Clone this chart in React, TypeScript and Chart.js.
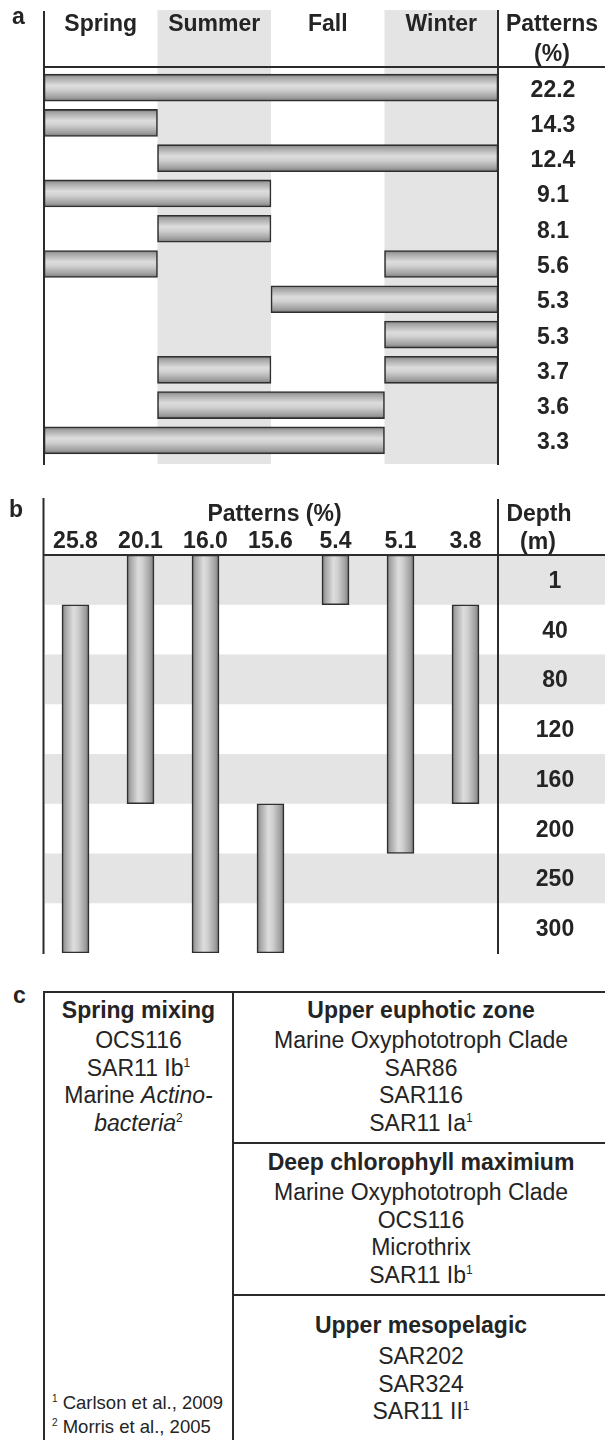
import React, { useEffect, useRef } from "react";
import { Chart, registerables } from "chart.js";

Chart.register(...registerables);

const FONT = '"Liberation Sans", Arial, Helvetica, sans-serif';
const INK = "#242424";
const LINE = "#2b2b2b";
const SHADE = "#e4e4e4";
const BAR_EDGE = "#2f2f2f";

// ---------- panel a : seasonal patterns ----------
const seasons = ["Spring", "Summer", "Fall", "Winter"];
const shadedSeasons = [1, 3];
const patternsA = ["22.2", "14.3", "12.4", "9.1", "8.1", "5.6", "5.3", "5.3", "3.7", "3.6", "3.3"];
// season index spans (0 = start of Spring, 4 = end of Winter)
const seasonSpanA = [[0, 4], [0, 1], [1, 4], [0, 2], [1, 2], [0, 1], [2, 4], [3, 4], [1, 2], [1, 3], [0, 3]];
const seasonSpanA2 = [null, null, null, null, null, [3, 4], null, null, [3, 4], null, null];

// ---------- panel b : depth patterns ----------
const patternsB = ["25.8", "20.1", "16.0", "15.6", "5.4", "5.1", "3.8"];
const depths = ["1", "40", "80", "120", "160", "200", "250", "300"];
// depth-band index spans (0 = top of the 1 m band, 8 = bottom of the 300 m band)
const depthSpanB = [[1, 8], [0, 5], [0, 8], [5, 8], [0, 1], [0, 6], [1, 5]];

// ---------- panel c : table ----------
type Seg = { t: string; i?: boolean; s?: string };
const springTitle = "Spring mixing";
const springItems: Seg[][] = [
  [{ t: "OCS116" }],
  [{ t: "SAR11 Ib", s: "1" }],
  [{ t: "Marine " }, { t: "Actino-", i: true }],
  [{ t: "bacteria", i: true, s: "2" }],
];
const zoneTitles = ["Upper euphotic zone", "Deep chlorophyll maximium", "Upper mesopelagic"];
const zoneItems: Seg[][][] = [
  [[{ t: "Marine Oxyphototroph Clade" }], [{ t: "SAR86" }], [{ t: "SAR116" }], [{ t: "SAR11 Ia", s: "1" }]],
  [[{ t: "Marine Oxyphototroph Clade" }], [{ t: "OCS116" }], [{ t: "Microthrix" }], [{ t: "SAR11 Ib", s: "1" }]],
  [[{ t: "SAR202" }], [{ t: "SAR324" }], [{ t: "SAR11 II", s: "1" }]],
];
const footnoteMarks = ["1", "2"];
const footnoteTexts = ["Carlson et al., 2009", "Morris et al., 2005"];

const BAR = 27;

function cylinder(ctx: CanvasRenderingContext2D, from: number, to: number, across: "x" | "y") {
  const g = across === "x" ? ctx.createLinearGradient(from, 0, to, 0) : ctx.createLinearGradient(0, from, 0, to);
  g.addColorStop(0, "#7e7e7e");
  g.addColorStop(0.12, "#a4a4a4");
  g.addColorStop(0.42, "#dddddd");
  g.addColorStop(0.58, "#d0d0d0");
  g.addColorStop(0.86, "#a0a0a0");
  g.addColorStop(1, "#787878");
  return g;
}

function seg(ctx: CanvasRenderingContext2D, x0: number, y0: number, x1: number, y1: number) {
  ctx.beginPath();
  ctx.moveTo(x0, y0);
  ctx.lineTo(x1, y1);
  ctx.stroke();
}

const panelAPlugin = {
  id: "panelA",
  beforeDatasetsDraw(chart: any) {
    const { ctx } = chart;
    const x = chart.scales.x;
    ctx.save();
    ctx.fillStyle = SHADE;
    for (const s of shadedSeasons) {
      const x0 = x.getPixelForValue(s);
      const x1 = x.getPixelForValue(s + 1);
      ctx.fillRect(x0, 10, x1 - x0, 454);
    }
    ctx.restore();
  },
  afterDraw(chart: any) {
    const { ctx } = chart;
    const x = chart.scales.x;
    const y = chart.scales.y;
    ctx.save();
    ctx.strokeStyle = LINE;
    ctx.lineWidth = 2;
    seg(ctx, x.left, 11, x.left, 465);
    seg(ctx, x.right, 10, x.right, 465);
    seg(ctx, x.left, 67, 605, 67);
    ctx.fillStyle = INK;
    ctx.font = `bold 23px ${FONT}`;
    ctx.textAlign = "center";
    ctx.textBaseline = "alphabetic";
    ctx.fillText("a", 18.5, 24);
    seasons.forEach((s, i) => ctx.fillText(s, x.getPixelForValue(i + 0.5), 31));
    ctx.fillText("Patterns", 552, 31);
    ctx.fillText("(%)", 552, 61);
    patternsA.forEach((p, i) => ctx.fillText(p, 553, y.getPixelForValue(i) + 9));
    ctx.restore();
  },
};

const panelBPlugin = {
  id: "panelB",
  beforeDatasetsDraw(chart: any) {
    const { ctx } = chart;
    const y = chart.scales.y;
    ctx.save();
    ctx.fillStyle = SHADE;
    depths.forEach((_, i) => {
      if (i % 2 === 0) {
        const y0 = y.getPixelForValue(i);
        const y1 = y.getPixelForValue(i + 1);
        ctx.fillRect(45, y0, 605 - 45, y1 - y0);
      }
    });
    ctx.restore();
  },
  afterDraw(chart: any) {
    const { ctx } = chart;
    const x = chart.scales.x;
    const y = chart.scales.y;
    ctx.save();
    ctx.strokeStyle = LINE;
    ctx.lineWidth = 2;
    seg(ctx, x.left + 0.5, 18, x.left + 0.5, 474);
    seg(ctx, x.right, 19, x.right, 474);
    seg(ctx, x.left, 75, 605, 75);
    ctx.fillStyle = INK;
    ctx.font = `bold 23px ${FONT}`;
    ctx.textAlign = "center";
    ctx.textBaseline = "alphabetic";
    ctx.fillText("b", 16, 37);
    ctx.fillText("Patterns (%)", (x.left + x.right) / 2 + 4, 41);
    patternsB.forEach((p, i) => ctx.fillText(p, x.getPixelForValue(i), 68));
    ctx.fillText("Depth", 539, 41);
    ctx.fillText("(m)", 538, 69);
    depths.forEach((d, i) => ctx.fillText(d, 555, (y.getPixelForValue(i) + y.getPixelForValue(i + 1)) / 2 + 8));
    ctx.restore();
  },
};

function PanelA() {
  const ref = useRef<HTMLCanvasElement>(null);
  useEffect(() => {
    const style = {
      grouped: false,
      barThickness: BAR,
      borderWidth: 1.6,
      borderColor: BAR_EDGE,
      borderSkipped: false,
      backgroundColor: (c: any) => {
        const chart = c.chart;
        if (c.type !== "data" || !chart.chartArea || !chart.scales.y) return "#c4c4c4";
        const cy = chart.scales.y.getPixelForValue(c.dataIndex);
        return cylinder(chart.ctx, cy - BAR / 2, cy + BAR / 2, "y");
      },
    };
    const chart = new Chart(ref.current as HTMLCanvasElement, {
      type: "bar",
      data: {
        labels: patternsA,
        datasets: [
          { data: seasonSpanA as any, ...style } as any,
          { data: seasonSpanA2 as any, ...style } as any,
        ],
      },
      options: {
        indexAxis: "y",
        responsive: false,
        animation: false,
        events: [],
        layout: { padding: { left: 44, right: 107, top: 70, bottom: 12 } },
        scales: {
          x: { type: "linear", min: 0, max: 4, display: false },
          y: { type: "category", display: false, offset: true },
        },
        plugins: { legend: { display: false }, tooltip: { enabled: false } },
      },
      plugins: [panelAPlugin],
    });
    return () => chart.destroy();
  }, []);
  return <canvas ref={ref} width={605} height={470} style={{ position: "absolute", left: 0, top: 0 }} />;
}

function PanelB() {
  const ref = useRef<HTMLCanvasElement>(null);
  useEffect(() => {
    const chart = new Chart(ref.current as HTMLCanvasElement, {
      type: "bar",
      data: {
        labels: patternsB,
        datasets: [
          {
            data: depthSpanB as any,
            barThickness: BAR,
            borderWidth: 1.6,
            borderColor: BAR_EDGE,
            borderSkipped: false,
            backgroundColor: (c: any) => {
              const chart = c.chart;
              if (c.type !== "data" || !chart.chartArea || !chart.scales.x) return "#c4c4c4";
              const cx = chart.scales.x.getPixelForValue(c.dataIndex);
              return cylinder(chart.ctx, cx - BAR / 2, cx + BAR / 2, "x");
            },
          } as any,
        ],
      },
      options: {
        responsive: false,
        animation: false,
        events: [],
        layout: { padding: { left: 43, right: 107, top: 75, bottom: 7 } },
        scales: {
          x: { type: "category", display: false, offset: true },
          y: { type: "linear", min: 0, max: 8, reverse: true, display: false },
        },
        plugins: { legend: { display: false }, tooltip: { enabled: false } },
      },
      plugins: [panelBPlugin],
    });
    return () => chart.destroy();
  }, []);
  return <canvas ref={ref} width={605} height={480} style={{ position: "absolute", left: 0, top: 480 }} />;
}

const SUP: React.CSSProperties = { fontSize: 12, lineHeight: 0, verticalAlign: "super", fontStyle: "normal" };

function TextLine({ segs }: { segs: Seg[] }) {
  return (
    <>
      {segs.map((s, k) => (
        <span key={k} style={{ fontStyle: s.i ? "italic" : "normal" }}>
          {s.t}
          {s.s ? <sup style={SUP}>{s.s}</sup> : null}
        </span>
      ))}
    </>
  );
}

function Cell({ left, width, center, bold, children }: any) {
  return (
    <div
      style={{
        position: "absolute",
        left,
        width,
        top: center - 14,
        height: 28,
        lineHeight: "28px",
        fontSize: 23,
        fontWeight: bold ? "bold" : "normal",
        textAlign: "center",
        whiteSpace: "nowrap",
        color: INK,
      }}
    >
      {children}
    </div>
  );
}

function PanelC() {
  const titleCenters = [1010, 1162, 1325];
  const itemStarts = [1040, 1192, 1356];
  const step = 27.7;
  const rule = (l: number, t: number, w: number, h: number) => (
    <div style={{ position: "absolute", left: l, top: t, width: w, height: h, background: LINE }} />
  );
  return (
    <>
      <div style={{ position: "absolute", left: 13, top: 981, lineHeight: "28px", fontSize: 23, fontWeight: "bold", color: INK }}>c</div>
      {rule(43, 991, 570, 2)}
      {rule(43, 991, 2, 460)}
      {rule(232, 991, 2, 460)}
      {rule(232, 1142, 380, 2)}
      {rule(232, 1294, 380, 2)}
      <Cell left={45} width={187} center={1010} bold>
        {springTitle}
      </Cell>
      {springItems.map((it, k) => (
        <Cell key={"s" + k} left={45} width={187} center={1040 + k * step}>
          <TextLine segs={it} />
        </Cell>
      ))}
      {zoneTitles.map((t, z) => (
        <React.Fragment key={"z" + z}>
          <Cell left={234} width={374} center={titleCenters[z]} bold>
            {t}
          </Cell>
          {zoneItems[z].map((it, k) => (
            <Cell key={k} left={234} width={374} center={itemStarts[z] + k * step}>
              <TextLine segs={it} />
            </Cell>
          ))}
        </React.Fragment>
      ))}
      {footnoteTexts.map((t, k) => (
        <div
          key={"f" + k}
          style={{
            position: "absolute",
            left: 52,
            top: 1391 + k * 24,
            lineHeight: "24px",
            fontSize: 18.5,
            color: INK,
            whiteSpace: "nowrap",
          }}
        >
          <sup style={{ fontSize: 10, lineHeight: 0, verticalAlign: "super" }}>{footnoteMarks[k]}</sup> {t}
        </div>
      ))}
    </>
  );
}

export default function App() {
  return (
    <div
      style={{
        position: "absolute",
        left: 0,
        top: 0,
        width: 605,
        height: 1440,
        overflow: "hidden",
        background: "#ffffff",
        fontFamily: FONT,
      }}
    >
      <PanelA />
      <PanelB />
      <PanelC />
    </div>
  );
}
